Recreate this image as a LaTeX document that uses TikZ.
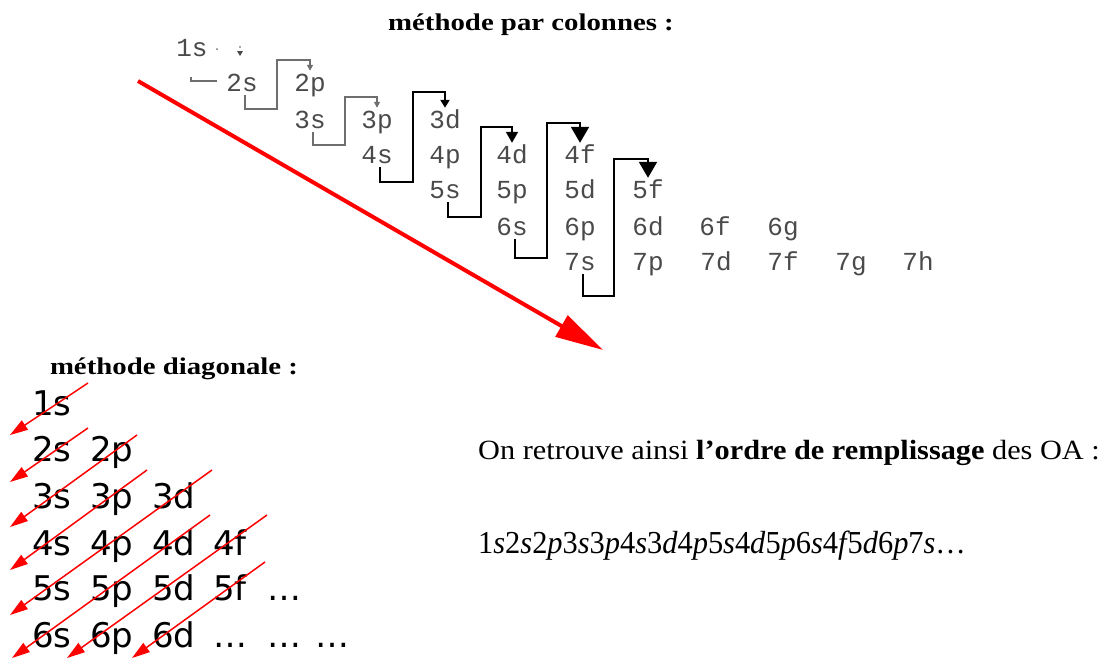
\documentclass[tikz,border=0pt]{standalone}
\usepackage{fontspec}
\setmainfont{Liberation Serif}
\newfontfamily\widef[FakeStretch=1.2]{Liberation Serif}
\newfontfamily\resf[FakeStretch=1.09]{Liberation Serif}
\newfontfamily\seqf[FakeStretch=0.95]{Liberation Serif}
\newfontfamily\monof{Liberation Mono}
\newfontfamily\diagf{DejaVu Sans}
\usetikzlibrary{arrows.meta}
\definecolor{orbgray}{HTML}{4A4A4A}
\definecolor{linegray}{HTML}{6E6E6E}
\definecolor{pured}{HTML}{FF0000}
\begin{document}
\begin{tikzpicture}[x=1pt,y=-1pt,
  orb/.style={font=\monof\fontsize{26}{26}\selectfont, text=orbgray, inner sep=0pt,
    text height=16pt, text depth=0pt, minimum height=24pt, anchor=center},
  dg/.style={font=\diagf\fontsize{34}{34}\selectfont, inner sep=0pt, anchor=base west},
  title/.style={font=\widef\bfseries\fontsize{24}{24}\selectfont, inner sep=0pt},
  graylink/.style={draw=linegray, line width=1.6pt, -{Triangle[length=6pt,width=6pt]}},
  blacklink/.style={draw=black, line width=2pt},
  bigred/.style={draw=pured, line width=4pt, -{Triangle[length=48pt,width=24pt]}},
  diagred/.style={draw=pured, line width=1.5pt, -{Triangle[length=18pt,width=11pt]}}
]
\useasboundingbox (0,0) rectangle (1114,659);

% ---------- titles ----------
\node[title] (t1) at (531,25) {méthode par colonnes :};
\node[title] (t2) at (174,369) {méthode diagonale :};

% ---------- column method ----------
\node[orb] (c1s) at (192,48) {1s};
\node[orb] (c2s) at (242,83) {2s};
\node[orb] (c2p) at (310,83) {2p};
\node[orb] (c3s) at (310,120) {3s};
\node[orb] (c3p) at (377,120) {3p};
\node[orb] (c3d) at (445,120) {3d};
\node[orb] (c4s) at (377,155) {4s};
\node[orb] (c4p) at (445,155) {4p};
\node[orb] (c4d) at (512,155) {4d};
\node[orb] (c4f) at (580,155) {4f};
\node[orb] (c5s) at (445,190) {5s};
\node[orb] (c5p) at (512,190) {5p};
\node[orb] (c5d) at (580,190) {5d};
\node[orb] (c5f) at (648,190) {5f};
\node[orb] (c6s) at (512,227) {6s};
\node[orb] (c6p) at (580,227) {6p};
\node[orb] (c6d) at (648,227) {6d};
\node[orb] (c6f) at (715,227) {6f};
\node[orb] (c6g) at (783,227) {6g};
\node[orb] (c7s) at (580,262) {7s};
\node[orb] (c7p) at (648,262) {7p};
\node[orb] (c7d) at (716,262) {7d};
\node[orb] (c7f) at (783,262) {7f};
\node[orb] (c7g) at (851,262) {7g};
\node[orb] (c7h) at (918,262) {7h};

% small vestiges near 1s
\fill[linegray] (217,49) circle (1pt);
\fill[orbgray] (237,51) -- (243,51) -- (240,56) -- cycle;
\fill[orbgray] (240,47) circle (0.8pt);
\coordinate (v0) at (191,77);
\coordinate (v1) at (217,81);
\draw[draw=linegray, line width=1.6pt] (v0) |- (v1);

% zig-zag connectors
\draw[graylink] ([xshift=3pt]c2s.south) |- (277,109) -- (277,60) -| (c2p.north);
\draw[graylink] ([xshift=3pt]c3s.south) |- (345,145) -- (345,97) -| (c3p.north);
\draw[blacklink, -{Triangle[length=8pt,width=9pt]}] ([xshift=3pt]c4s.south) |- (413,182) -- (413,92) -| (c3d.north);
\draw[blacklink, -{Triangle[length=11pt,width=12pt]}] ([xshift=3pt]c5s.south) |- (481,217) -- (481,127) -| (c4d.north);
\draw[blacklink, -{Triangle[length=16pt,width=18pt]}] ([xshift=3pt]c6s.south) |- (547,258) -- (547,123) -| (c4f.north);
\draw[blacklink, -{Triangle[length=16pt,width=18pt]}] ([xshift=3pt]c7s.south) |- (614,296) -- (614,159) -| (c5f.north);

% big red arrow
\coordinate (m0) at (138,81);
\coordinate (m1) at (603,350);
\draw[bigred] (m0) -- (m1);

% ---------- diagonal method ----------
\node[dg] (d1s) at (32,415) {1s};
\node[dg] (d2s) at (32,461) {2s};
\node[dg] (d2p) at (90,461) {2p};
\node[dg] (d3s) at (32,508) {3s};
\node[dg] (d3p) at (90,508) {3p};
\node[dg] (d3d) at (152,508) {3d};
\node[dg] (d4s) at (32,555) {4s};
\node[dg] (d4p) at (90,555) {4p};
\node[dg] (d4d) at (152,555) {4d};
\node[dg] (d4f) at (213,555) {4f};
\node[dg] (d5s) at (32,600) {5s};
\node[dg] (d5p) at (90,600) {5p};
\node[dg] (d5d) at (152,600) {5d};
\node[dg] (d5f) at (213,600) {5f};
\node[dg] (d5x) at (267,600) {…};
\node[dg] (d6s) at (32,647) {6s};
\node[dg] (d6p) at (90,647) {6p};
\node[dg] (d6d) at (152,647) {6d};
\node[dg] (d6x) at (213,647) {…};
\node[dg] (d6y) at (267,647) {…};
\node[dg] (d6z) at (315,647) {…};

\coordinate (a1s) at (88,383);  \coordinate (a1e) at (10,435);
\coordinate (a2s) at (88,428);  \coordinate (a2e) at (10,482);
\coordinate (a3s) at (137,435); \coordinate (a3e) at (10,527);
\coordinate (a4s) at (147,470); \coordinate (a4e) at (10,570);
\coordinate (a5s) at (212,470); \coordinate (a5e) at (10,615);
\coordinate (a6s) at (210,515); \coordinate (a6e) at (12,658);
\coordinate (a7s) at (267,515); \coordinate (a7e) at (67,658);
\coordinate (a8s) at (265,562); \coordinate (a8e) at (132,658);
\foreach \i in {1,...,8} \draw[diagred] (a\i s) -- (a\i e);

% ---------- result text ----------
\node[font=\resf\fontsize{27.8}{28}\selectfont, inner sep=0pt, anchor=base west] (res)
  at (478,459) {On retrouve ainsi \textbf{l’ordre de remplissage} des OA :};
\node[font=\seqf\fontsize{32}{32}\selectfont, inner sep=0pt, anchor=base west] (seq)
  at (478,553) {1\textit{s}2\textit{s}2\textit{p}3\textit{s}3\textit{p}4\textit{s}3\textit{d}4\textit{p}5\textit{s}4\textit{d}5\textit{p}6\textit{s}4\textit{f\kern1pt}5\textit{d}6\textit{p}7\textit{s}…};
\end{tikzpicture}
\end{document}
